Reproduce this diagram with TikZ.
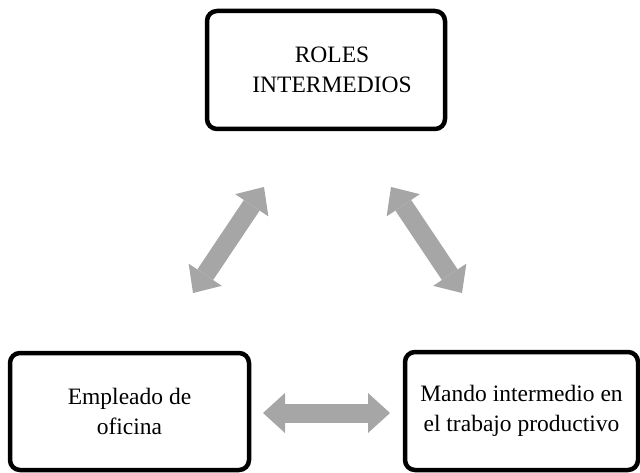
\documentclass[tikz,border=0pt]{standalone}
\usepackage{fontspec}
\setmainfont{Liberation Serif}
\usetikzlibrary{arrows.meta}
\definecolor{arrowgray}{RGB}{166,166,166}
\tikzset{
  rolebox/.style={draw=black, line width=4.5pt, rounded corners=10pt, fill=white,
    align=center, inner sep=0pt, font=\fontsize{23.5}{30}\selectfont},
  blockarrow/.style={draw=arrowgray, line width=19pt,
    {Triangle[length=22pt, width=40pt, line width=0pt, fill=arrowgray]}-{Triangle[length=22pt, width=40pt, line width=0pt, fill=arrowgray]}}
}
\begin{document}
\begin{tikzpicture}[x=1pt, y=-1pt]
\useasboundingbox (0,0) rectangle (640,473);
\node[rolebox, minimum width=238pt, minimum height=118pt] (top) at (326,70) {\hspace*{12pt}ROLES\\\hspace*{12pt}INTERMEDIOS};
\node[rolebox, minimum width=239pt, minimum height=117pt] (left) at (129.5,411.5) {Empleado de\\oficina};
\node[rolebox, minimum width=233pt, minimum height=118pt] (right) at (521.5,411) {Mando intermedio en\\el trabajo productivo};
\coordinate (la) at (193,293);
\coordinate (lb) at (264,187);
\coordinate (ra) at (391,187);
\coordinate (rb) at (462,293);
\coordinate (ha) at (263,413);
\coordinate (hb) at (390,413);
\draw[blockarrow] (la) -- (lb);
\draw[blockarrow] (ra) -- (rb);
\draw[blockarrow] (ha) -- (hb);
\end{tikzpicture}
\end{document}
